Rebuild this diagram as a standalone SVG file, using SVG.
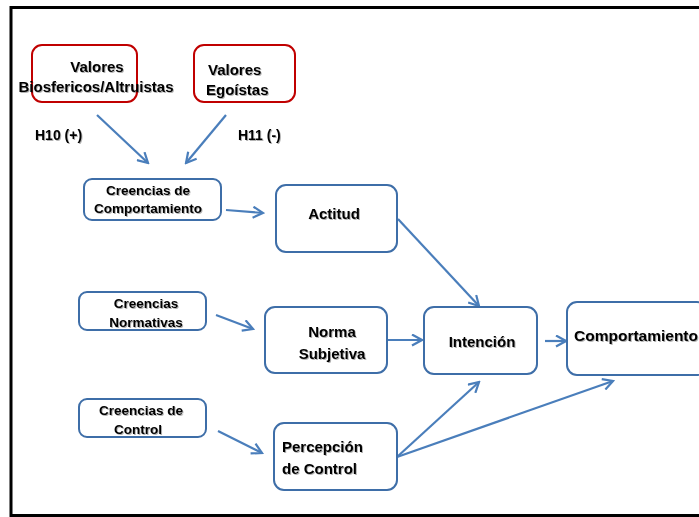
<svg xmlns="http://www.w3.org/2000/svg" width="699" height="517" viewBox="0 0 699 517">
<defs>
<style>
.blue{fill:#fff;stroke:#3e6ea8;stroke-width:2}
.red{fill:none;stroke:#c00000;stroke-width:2}
.t{font-family:"Liberation Sans",Arial,sans-serif;font-weight:bold;font-size:15px;fill:#000;filter:url(#sh)}
.s{font-size:13.5px}
.c{stroke:#4a7ebb;stroke-width:2.2;fill:none;marker-end:url(#ah)}
</style>
<filter id="sh" x="-10%" y="-30%" width="120%" height="160%">
<feDropShadow dx="1" dy="1" stdDeviation="0.6" flood-color="#000" flood-opacity="0.3"/>
</filter>
<marker id="ah" viewBox="0 0 13 13" refX="11" refY="6.5" markerWidth="13" markerHeight="13" markerUnits="userSpaceOnUse" orient="auto">
<path d="M1,1 L11,6.5 L1,12" fill="none" stroke="#4a7ebb" stroke-width="2.2"/>
</marker>
</defs>
<rect x="0" y="0" width="699" height="517" fill="#fff"/>
<rect x="11" y="7.5" width="700" height="508" fill="none" stroke="#000" stroke-width="3"/>

<g id="connectors">
<line class="c" x1="97" y1="115" x2="148" y2="163"/>
<line class="c" x1="226" y1="115" x2="186" y2="163"/>
<line class="c" x1="226" y1="210" x2="263" y2="213"/>
<line class="c" x1="216" y1="315" x2="253" y2="329"/>
<line class="c" x1="218" y1="431" x2="262" y2="453"/>
<line class="c" x1="398" y1="219" x2="479" y2="306"/>
<line class="c" x1="387" y1="340" x2="422" y2="340"/>
<line class="c" x1="545" y1="341" x2="566" y2="341"/>
<line class="c" x1="397" y1="457" x2="479" y2="382"/>
<line class="c" x1="397" y1="457" x2="613" y2="381"/>
</g>

<g id="valores-biosfericos">
<rect class="red" x="32" y="45" width="105" height="57" rx="10"/>
<text class="t" x="97" y="72" text-anchor="middle">Valores</text>
<text class="t" x="96" y="92" text-anchor="middle">Biosfericos/Altruistas</text>
</g>

<g id="valores-egoistas">
<rect class="red" x="194" y="45" width="101" height="57" rx="10"/>
<text class="t" x="208" y="75">Valores</text>
<text class="t" x="206" y="95">Egoístas</text>
</g>

<g id="h10"><text class="t" x="35" y="140" style="font-size:14px">H10 (+)</text></g>
<g id="h11"><text class="t" x="238" y="140" style="font-size:14px">H11 (-)</text></g>

<g id="creencias-comportamiento">
<rect class="blue" x="84" y="179" width="137" height="41" rx="8"/>
<text class="t s" x="148" y="195" text-anchor="middle">Creencias de</text>
<text class="t s" x="148" y="213" text-anchor="middle">Comportamiento</text>
</g>

<g id="actitud">
<rect class="blue" x="276" y="185" width="121" height="67" rx="10"/>
<text class="t" x="334" y="219" text-anchor="middle">Actitud</text>
</g>

<g id="creencias-normativas">
<rect class="blue" x="79" y="292" width="127" height="38" rx="8"/>
<text class="t s" x="146" y="308" text-anchor="middle">Creencias</text>
<text class="t s" x="146" y="327" text-anchor="middle">Normativas</text>
</g>

<g id="norma-subjetiva">
<rect class="blue" x="265" y="307" width="122" height="66" rx="10"/>
<text class="t" x="332" y="337" text-anchor="middle">Norma</text>
<text class="t" x="332" y="359" text-anchor="middle">Subjetiva</text>
</g>

<g id="intencion">
<rect class="blue" x="424" y="307" width="113" height="67" rx="10"/>
<text class="t" x="482" y="347" text-anchor="middle">Intención</text>
</g>

<g id="comportamiento">
<rect class="blue" x="567" y="302" width="140" height="73" rx="10"/>
<text class="t" x="574" y="341" style="font-size:15.5px">Comportamiento</text>
</g>

<g id="creencias-control">
<rect class="blue" x="79" y="399" width="127" height="38" rx="8"/>
<text class="t s" x="141" y="415" text-anchor="middle">Creencias de</text>
<text class="t s" x="138" y="434" text-anchor="middle">Control</text>
</g>

<g id="percepcion-control">
<rect class="blue" x="274" y="423" width="123" height="67" rx="10"/>
<text class="t" x="282" y="452">Percepción</text>
<text class="t" x="282" y="474">de Control</text>
</g>
</svg>
